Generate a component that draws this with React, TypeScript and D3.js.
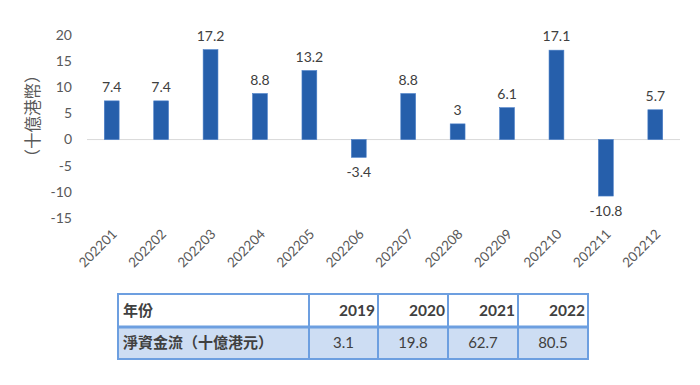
import React from 'react'
import * as d3 from 'd3'

const months = ['202201', '202202', '202203', '202204', '202205', '202206', '202207', '202208', '202209', '202210', '202211', '202212']
const flows = [7.4, 7.4, 17.2, 8.8, 13.2, -3.4, 8.8, 3, 6.1, 17.1, -10.8, 5.7]
const yTicks = [20, 15, 10, 5, 0, -5, -10, -15]
const years = ['2019', '2020', '2021', '2022']
const yearFlows = ['3.1', '19.8', '62.7', '80.5']

const W = 700
const H = 385
const numFont = 'Lato, "Noto Sans CJK TC", sans-serif'
const cjkFont = '"Noto Sans CJK TC", sans-serif'

export default function App() {
  const x = d3.scaleBand<string>().domain(months).range([87, 680]).paddingInner(0.7).paddingOuter(0.35)
  const y = d3.scaleLinear().domain([-15, 20]).range([218, 35])

  // table grid
  const colEdges = [118, 309, 378, 448, 518, 588]
  const rowEdges = [294, 327, 359]
  const border = '#6d9fe0'

  return (
    <div style={{ position: 'absolute', left: 0, top: 0 }}>
      <svg width={W} height={H} style={{ display: 'block', background: '#fff' }}>
        {yTicks.map(t => (
          <text key={t} x={72} y={y(t)} dy="0.35em" textAnchor="end" fontSize={14} fill="#595959" fontFamily={numFont}>
            {t}
          </text>
        ))}
        <text transform={`translate(39, 116) rotate(-90)`} textAnchor="middle" fontSize={16.5} fill="#595959" fontFamily={cjkFont}>
          （十億港幣）
        </text>
        <line x1={87} x2={680} y1={y(0)} y2={y(0)} stroke="#d9d9d9" strokeWidth={1} />
        {months.map((m, i) => {
          const v = flows[i]
          const top = y(Math.max(0, v))
          const h = Math.abs(y(v) - y(0))
          const cx = (x(m) ?? 0) + x.bandwidth() / 2
          return (
            <g key={m}>
              <rect x={x(m)} y={top} width={x.bandwidth()} height={h} fill="#265fab" stroke="#4a7fc8" strokeWidth={0.6} />
              <text
                x={cx}
                y={v >= 0 ? y(v) - 9 : y(v) + 20}
                textAnchor="middle"
                fontSize={14}
                fill="#404040"
                fontFamily={numFont}
              >
                {v}
              </text>
              <text
                transform={`translate(${cx + 6}, 235) rotate(-45)`}
                textAnchor="end"
                fontSize={13.5}
                fill="#595959"
                fontFamily={numFont}
              >
                {m}
              </text>
            </g>
          )
        })}
        {/* table */}
        <rect x={colEdges[0]} y={rowEdges[1]} width={colEdges[5] - colEdges[0]} height={rowEdges[2] - rowEdges[1]} fill="#cdddf3" />
        {colEdges.map(cx => (
          <line key={'c' + cx} x1={cx} x2={cx} y1={rowEdges[0]} y2={rowEdges[2]} stroke={border} strokeWidth={2} />
        ))}
        {rowEdges.map(ry => (
          <line key={'r' + ry} x1={colEdges[0] - 1} x2={colEdges[5] + 1} y1={ry} y2={ry} stroke={border} strokeWidth={ry === rowEdges[1] ? 3 : 2} />
        ))}
        <text x={colEdges[0] + 5} y={(rowEdges[0] + rowEdges[1]) / 2} dy="0.35em" fontSize={15} fontWeight="bold" fill="#404040" fontFamily={cjkFont}>
          年份
        </text>
        <text x={colEdges[0] + 5} y={(rowEdges[1] + rowEdges[2]) / 2} dy="0.35em" fontSize={15} fontWeight="bold" fill="#404040" fontFamily={cjkFont}>
          淨資金流（十億港元）
        </text>
        {years.map((yr, i) => (
          <g key={yr}>
            <text x={colEdges[i + 2] - 3} y={(rowEdges[0] + rowEdges[1]) / 2} dy="0.35em" textAnchor="end" fontSize={15.5} fontWeight="bold" fill="#404040" fontFamily={numFont}>
              {yr}
            </text>
            <text x={(colEdges[i + 1] + colEdges[i + 2]) / 2} y={(rowEdges[1] + rowEdges[2]) / 2} dy="0.35em" textAnchor="middle" fontSize={15} fill="#404040" fontFamily={numFont}>
              {yearFlows[i]}
            </text>
          </g>
        ))}
      </svg>
    </div>
  )
}
